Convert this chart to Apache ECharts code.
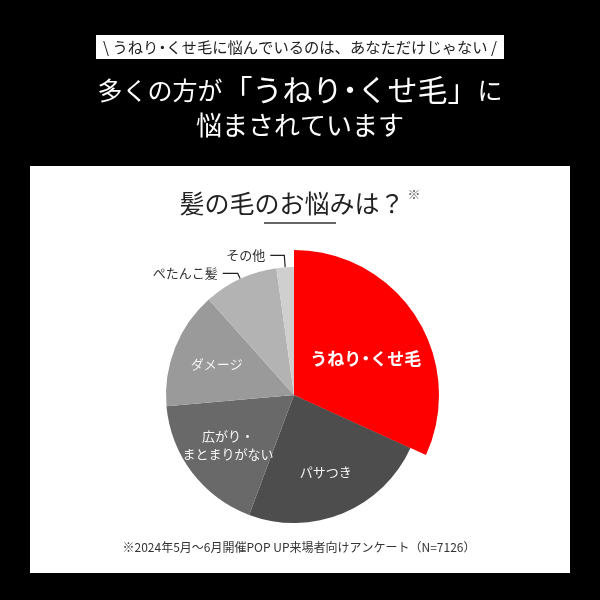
<!DOCTYPE html>
<html>
<head>
<meta charset="utf-8">
<script src="https://cdn.jsdelivr.net/npm/echarts@6/dist/echarts.min.js"></script>
<style>html,body{margin:0;padding:0;background:#000}#c{width:600px;height:600px}</style>
</head>
<body>
<div id="c"></div>
<script>
// ---- data ----
const categories = ['うねり・くせ毛', 'パサつき', '広がり・\nまとまりがない', 'ダメージ', 'ぺたんこ髪', 'その他'];
const values = [31.8, 23.9, 17.9, 14.8, 9.4, 2.2];
const headerText = '\\ うねり・くせ毛に悩んでいるのは、あなただけじゃない /';
const headlinePre = '多くの方が';
const headlineKey = '「うねり・くせ毛」';
const headlinePost = 'に';
const headline2 = '悩まされています';
const titleText = '髪の毛のお悩みは？';
const noteText = '※2024年5月〜6月開催POP UP来場者向けアンケート（N=7126）';

// ---- styles ----
const FONT = '"Noto Sans CJK JP", "Noto Sans", sans-serif';
const sliceColors = ['#ff0000', '#4d4d4d', '#696969', '#9a9a9a', '#b3b3b3', '#cfcfcf'];
const center = [294, 395];
const insideIdx = [1, 2, 3];
const outsideLine = { 4: [6, 15], 5: [12, 14] };

// render the Japanese middle dot with a narrow (proportional-like) advance
function narrowDot(str, tok, base) {
  return str.split('・').map(s => s ? (base ? '{' + base + '|' + s + '}' : s) : '').join('{' + tok + '|・}');
}
function dotStyle(size, extra) {
  return Object.assign({ width: Math.round(size * 0.5), align: 'center', fontSize: size, fontFamily: FONT }, extra || {});
}

const chart = echarts.init(document.getElementById('c'), null, { renderer: 'canvas' });

const baseData = categories.map((n, i) => {
  const item = { name: n, value: values[i], itemStyle: { color: sliceColors[i] } };
  if (outsideLine[i]) {
    item.label = { show: true, position: 'outside', color: '#333', fontSize: 13, fontFamily: FONT, formatter: '{b}' };
    item.labelLine = { show: true, length: outsideLine[i][0], length2: outsideLine[i][1], smooth: false,
      lineStyle: { color: '#222', width: 1.2 } };
  } else {
    item.label = { show: false };
    item.labelLine = { show: false };
  }
  return item;
});

const redData = categories.map((n, i) => ({
  name: n, value: values[i],
  itemStyle: { color: i === 0 ? sliceColors[0] : 'transparent' },
  label: i === 0 ? {
    show: true, position: 'inside', color: '#fff', fontSize: 17, fontWeight: 'bold', fontFamily: FONT,
    formatter: p => narrowDot(p.name, 'd'),
    rich: { d: dotStyle(17, { fontWeight: 'bold', color: '#fff' }) }
  } : { show: false }
}));

const labelData = categories.map((n, i) => ({
  name: n, value: values[i],
  itemStyle: { color: 'transparent' },
  label: insideIdx.includes(i) ? {
    show: true, position: 'inside', color: '#f4f4f4', fontSize: 13, lineHeight: 18, fontFamily: FONT,
    formatter: p => p.name
  } : { show: false }
}));

const option = {
  backgroundColor: '#000',
  animation: false,
  graphic: {
    elements: [
      { type: 'rect', z: -10, shape: { x: 30, y: 166, width: 540, height: 407 }, style: { fill: '#fff' } },
      { type: 'rect', shape: { x: 96, y: 35, width: 408, height: 24 }, style: { fill: '#fff' } },
      { type: 'text', x: 300, y: 47, style: {
          text: narrowDot(headerText, 'd'), fill: '#222', font: '15.3px ' + FONT, textAlign: 'center', textVerticalAlign: 'middle',
          rich: { d: dotStyle(15.3, { fill: '#222' }) }
      } },
      { type: 'text', x: 300, y: 90, style: {
          text: '{s|' + headlinePre + '}' + narrowDot(headlineKey, 'bd', 'b') + '{s|' + headlinePost + '}',
          fill: '#fff', textAlign: 'center', textVerticalAlign: 'middle',
          rich: {
            s: { fontSize: 25, fontFamily: FONT, fill: '#fff' },
            b: { fontSize: 30, fontFamily: FONT, fill: '#fff' },
            bd: dotStyle(30, { fill: '#fff' })
          }
      } },
      { type: 'text', x: 300, y: 125, style: { text: headline2, fill: '#fff', font: '26px ' + FONT, textAlign: 'center', textVerticalAlign: 'middle' } },
      { type: 'text', x: 292, y: 203, style: { text: titleText, fill: '#222', font: '25px ' + FONT, textAlign: 'center', textVerticalAlign: 'middle' } },
      { type: 'text', x: 414, y: 194, style: { text: '※', fill: '#666', font: '13px ' + FONT, textAlign: 'center', textVerticalAlign: 'middle' } },
      { type: 'line', shape: { x1: 264, y1: 223, x2: 336, y2: 223 }, style: { stroke: '#333', lineWidth: 1.5 } },
      { type: 'text', x: 299, y: 547, style: { text: noteText, fill: '#333', font: '12px ' + FONT, textAlign: 'center', textVerticalAlign: 'middle' } }
    ]
  },
  series: [
    { type: 'pie', name: 'base', center: center, radius: 128, startAngle: 90, clockwise: true,
      avoidLabelOverlap: false, silent: true, itemStyle: { borderWidth: 0 }, data: baseData },
    { type: 'pie', name: 'highlight', center: center, radius: [8, 145], startAngle: 90, clockwise: true,
      avoidLabelOverlap: false, silent: true, itemStyle: { borderWidth: 0 }, labelLine: { show: false },
      labelLayout: function () { return { dx: 5, dy: 7 }; }, data: redData },
    { type: 'pie', name: 'labels', center: center, radius: [32, 128], startAngle: 90, clockwise: true,
      avoidLabelOverlap: false, silent: true, itemStyle: { borderWidth: 0 }, labelLine: { show: false }, data: labelData }
  ]
};
chart.setOption(option);
</script>
</body>
</html>
